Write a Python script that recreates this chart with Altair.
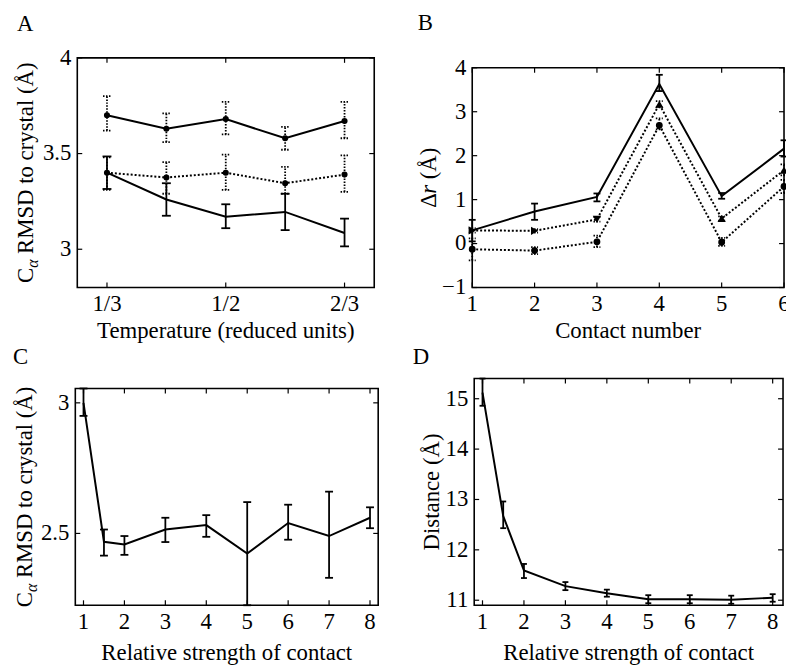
import altair as alt
import pandas as pd

FONT = "Liberation Serif"
FS = 23

# ---------------- data ----------------
# Panel A
A_TEMP = [1 / 3, 5 / 12, 1 / 2, 7 / 12, 2 / 3]
A_UPPER = [3.70, 3.63, 3.68, 3.58, 3.67]
A_UPPER_LO = [3.62, 3.56, 3.60, 3.52, 3.58]
A_UPPER_HI = [3.80, 3.71, 3.77, 3.64, 3.77]
A_MID = [3.40, 3.375, 3.40, 3.345, 3.39]
A_MID_LO = [3.31, 3.29, 3.31, 3.29, 3.30]
A_MID_HI = [3.48, 3.455, 3.495, 3.43, 3.49]
A_LOW = [3.40, 3.26, 3.17, 3.195, 3.085]
A_LOW_LO = [3.315, 3.175, 3.11, 3.10, 3.015]
A_LOW_HI = [3.485, 3.345, 3.235, 3.29, 3.16]
A_XTICKS = [1 / 3, 1 / 2, 2 / 3]
A_XTICK_LABELS = ["1/3", "1/2", "2/3"]
A_YTICKS = [3, 3.5, 4]
A_YTICK_LABELS = ["3", "3.5", "4"]

# Panel B
B_CONTACT = [1, 2, 3, 4, 5, 6]
B_SOLID = [0.30, 0.73, 1.06, 3.63, 1.08, 2.16]
B_SOLID_LO = [0.05, 0.54, 0.96, 3.47, 1.02, 1.98]
B_SOLID_HI = [0.54, 0.91, 1.14, 3.84, 1.15, 2.35]
B_TRI = [0.30, 0.29, 0.55, 3.17, 0.57, 1.67]
B_TRI_LO = [0.25, 0.25, 0.50, 3.10, 0.52, 1.55]
B_TRI_HI = [0.35, 0.33, 0.60, 3.24, 0.62, 1.80]
B_CIRC = [-0.13, -0.16, 0.04, 2.69, 0.03, 1.30]
B_CIRC_LO = [-0.38, -0.24, -0.08, 2.60, -0.05, 1.15]
B_CIRC_HI = [0.12, -0.08, 0.18, 2.85, 0.13, 1.45]
B_XTICK_LABELS = ["1", "2", "3", "4", "5", "6"]
B_YTICKS = [-1, 0, 1, 2, 3, 4]
B_YTICK_LABELS = ["\u22121", "0", "1", "2", "3", "4"]

# Panels C and D
STRENGTH = [1, 1.5, 2, 3, 4, 5, 6, 7, 8]
C_RMSD = [3.00, 2.468, 2.458, 2.515, 2.532, 2.423, 2.54, 2.49, 2.56]
C_LO = [2.95, 2.415, 2.418, 2.467, 2.487, 2.20, 2.476, 2.33, 2.52]
C_HI = [3.07, 2.515, 2.49, 2.56, 2.57, 2.62, 2.61, 2.66, 2.60]
C_YTICKS = [2.5, 3]
C_YTICK_LABELS = ["2.5", "3"]
D_DIST = [15.12, 12.67, 11.59, 11.28, 11.14, 11.02, 11.02, 11.01, 11.05]
D_LO = [14.86, 12.43, 11.44, 11.20, 11.07, 10.94, 10.94, 10.93, 10.97]
D_HI = [15.45, 12.96, 11.72, 11.36, 11.21, 11.10, 11.10, 11.09, 11.12]
D_YTICKS = [11, 12, 13, 14, 15]
D_YTICK_LABELS = ["11", "12", "13", "14", "15"]
CD_XTICKS = [1, 2, 3, 4, 5, 6, 7, 8]
CD_XTICK_LABELS = ["1", "2", "3", "4", "5", "6", "7", "8"]

# ---------------- layout / styles ----------------
W, H = 786, 660
GEO = {
    "A": dict(left=70, right=370, top=47, bottom=279, xdom=[7 / 24, 17 / 24], ydom=[2.8, 4.0]),
    "B": dict(left=469, right=784, top=57, bottom=279, xdom=[1, 6], ydom=[-1, 4]),
    "C": dict(left=68, right=374, top=381, bottom=600, xdom=[0.8, 8.2], ydom=[2.225, 3.055]),
    "D": dict(left=471, right=783, top=371, bottom=600, xdom=[0.8, 8.25], ydom=[10.9, 15.4]),
}
B_TRI_SHAPE = {1: "triangle-right", 2: "triangle-right", 3: "triangle-down",
               4: "triangle-up", 5: "triangle-up", 6: "triangle-up"}
TICK = 5
DOT = [2, 2]
ERRDOT = [1.5, 1.5]

ROMAN = {' ': 0.25, '(': 0.333, ')': 0.333, 'Å': 0.722, 'C': 0.667, 'D': 0.722,
         'M': 0.889, 'R': 0.667, 'S': 0.556, 'a': 0.444, 'c': 0.444, 'e': 0.444,
         'i': 0.278, 'l': 0.278, 'n': 0.5, 'o': 0.5, 'r': 0.333, 's': 0.389,
         't': 0.278, 'y': 0.5, 'Δ': 0.612}
ITALIC = {'α': 0.52, 'r': 0.389}


def text_width(s, size, italic=False):
    w = 0
    for ch in s:
        if italic and ch in ITALIC:
            w += ITALIC[ch]
        else:
            w += ROMAN.get(ch, 0.5)
    return w * size


def text_layer(txt, x, y, size=FS, angle=0, italic=False, align="left"):
    kw = dict(align=align, baseline="alphabetic", font=FONT, fontSize=size, color="black")
    if angle:
        kw["angle"] = angle
    if italic:
        kw["fontStyle"] = "italic"
    return alt.Chart(pd.DataFrame({"t": [txt]})).mark_text(**kw).encode(
        x=alt.value(x), y=alt.value(y), text="t:N")


def ytitle_layers(parts, base_x, center_y):
    # parts: (text, size, italic, baseline shift, gap after)
    total = sum(text_width(t, s, it) + g for t, s, it, sh, g in parts)
    y = center_y + total / 2
    out = []
    for t, s, it, sh, g in parts:
        out.append(text_layer(t, base_x + sh, y, size=s, angle=270, italic=it))
        y -= text_width(t, s, it) + g
    return out


def panel(key, xticks, xlabels, yticks, ylabels, series, xtitle, xtitle_dy,
          ytitle_parts, ytitle_x, letter, letter_xy):
    g = GEO[key]
    xs = alt.Scale(domain=g["xdom"], range=[g["left"], g["right"]], nice=False, zero=False)
    ys = alt.Scale(domain=g["ydom"], range=[g["bottom"], g["top"]], nice=False, zero=False, clamp=True)

    def XF(f):
        return alt.X(f, scale=xs, axis=None)

    def YF(f):
        return alt.Y(f, scale=ys, axis=None)

    layers = []
    # frame
    frame = pd.DataFrame({"x0": [g["xdom"][0]], "x1": [g["xdom"][1]],
                          "y0": [g["ydom"][0]], "y1": [g["ydom"][1]]})
    layers.append(alt.Chart(frame).mark_rect(filled=False, stroke="black", strokeWidth=1.6).encode(
        x=XF("x0:Q"), x2="x1:Q", y=YF("y0:Q"), y2="y1:Q"))
    # inward ticks on all four sides
    xt = pd.DataFrame({"t": xticks, "lab": xlabels})
    yt = pd.DataFrame({"t": yticks, "lab": ylabels})
    rk = dict(color="black", strokeWidth=1.2)
    layers += [
        alt.Chart(xt).mark_rule(**rk).encode(x=XF("t:Q"), y=alt.value(g["bottom"]), y2=alt.value(g["bottom"] - TICK)),
        alt.Chart(xt).mark_rule(**rk).encode(x=XF("t:Q"), y=alt.value(g["top"]), y2=alt.value(g["top"] + TICK)),
        alt.Chart(yt).mark_rule(**rk).encode(y=YF("t:Q"), x=alt.value(g["left"]), x2=alt.value(g["left"] + TICK)),
        alt.Chart(yt).mark_rule(**rk).encode(y=YF("t:Q"), x=alt.value(g["right"]), x2=alt.value(g["right"] - TICK)),
    ]
    # tick labels
    layers.append(alt.Chart(xt).mark_text(font=FONT, fontSize=FS, color="black", align="center",
                                          baseline="alphabetic").encode(
        x=XF("t:Q"), y=alt.value(g["bottom"] + 24), text="lab:N"))
    layers.append(alt.Chart(yt).mark_text(font=FONT, fontSize=FS, color="black", align="right",
                                          baseline="middle").encode(
        y=YF("t:Q"), x=alt.value(g["left"] - 6), text="lab:N"))
    # series
    for s in series:
        df = pd.DataFrame({"x": s["x"], "y": s["y"], "lo": s["lo"], "hi": s["hi"]})
        if s.get("shapes"):
            df["shape"] = [s["shapes"][v] for v in s["x"]]
        cap = s.get("cap", 8)
        ekw = dict(color="black", strokeWidth=1.8)
        if s.get("err_dash"):
            ekw["strokeDash"] = s["err_dash"]
        layers.append(alt.Chart(df).mark_rule(**ekw).encode(x=XF("x:Q"), y=YF("lo:Q"), y2="hi:Q"))
        for f in ["lo", "hi"]:
            layers.append(alt.Chart(df).mark_rule(xOffset=-cap / 2, x2Offset=cap / 2, **ekw).encode(
                x=XF("x:Q"), x2="x:Q", y=YF(f + ":Q")))
        lkw = dict(color="black", strokeWidth=2)
        if s.get("line_dash"):
            lkw["strokeDash"] = s["line_dash"]
        layers.append(alt.Chart(df).mark_line(**lkw).encode(x=XF("x:Q"), y=YF("y:Q")))
        if s.get("shapes"):
            layers.append(alt.Chart(df).mark_point(filled=True, color="black", opacity=1,
                                                   size=s.get("msize", 30)).encode(
                x=XF("x:Q"), y=YF("y:Q"), shape=alt.Shape("shape:N", scale=None)))
        elif s.get("shape"):
            layers.append(alt.Chart(df).mark_point(filled=True, color="black", opacity=1,
                                                   size=s.get("msize", 30), shape=s["shape"]).encode(
                x=XF("x:Q"), y=YF("y:Q")))
    # titles
    layers.append(text_layer(xtitle, (g["left"] + g["right"]) / 2, g["bottom"] + xtitle_dy, align="center"))
    layers += ytitle_layers(ytitle_parts, ytitle_x, (g["top"] + g["bottom"]) / 2)
    layers.append(text_layer(letter, letter_xy[0], letter_xy[1]))
    return layers


RMSD_TITLE = [("C", FS, False, 0, 0), ("α", 16, True, 5, 0.25 * FS),
              ("RMSD to crystal (Å)", FS, False, 0, 0)]

layers = []
layers += panel("A", A_XTICKS, A_XTICK_LABELS, A_YTICKS, A_YTICK_LABELS,
                [dict(x=A_TEMP, y=A_UPPER, lo=A_UPPER_LO, hi=A_UPPER_HI, err_dash=ERRDOT, shape="circle", msize=38, cap=8),
                 dict(x=A_TEMP, y=A_MID, lo=A_MID_LO, hi=A_MID_HI, line_dash=DOT, err_dash=ERRDOT, shape="circle", msize=38, cap=8),
                 dict(x=A_TEMP, y=A_LOW, lo=A_LOW_LO, hi=A_LOW_HI, cap=9)],
                "Temperature (reduced units)", 51, RMSD_TITLE, 25, "A", (9, 19.5))
layers += panel("B", B_CONTACT, B_XTICK_LABELS, B_YTICKS, B_YTICK_LABELS,
                [dict(x=B_CONTACT, y=B_CIRC, lo=B_CIRC_LO, hi=B_CIRC_HI, line_dash=DOT, err_dash=ERRDOT, shape="circle", msize=48, cap=7),
                 dict(x=B_CONTACT, y=B_TRI, lo=B_TRI_LO, hi=B_TRI_HI, line_dash=DOT, err_dash=ERRDOT, shapes=B_TRI_SHAPE, msize=70, cap=7),
                 dict(x=B_CONTACT, y=B_SOLID, lo=B_SOLID_LO, hi=B_SOLID_HI, cap=7)],
                "Contact number", 51,
                [("Δ", FS, False, 0, 0), ("r", FS, True, 0, 0.25 * FS), ("(Å)", FS, False, 0, 0)],
                432, "B", (414, 19))
layers += panel("C", CD_XTICKS, CD_XTICK_LABELS, C_YTICKS, C_YTICK_LABELS,
                [dict(x=STRENGTH, y=C_RMSD, lo=C_LO, hi=C_HI, cap=8)],
                "Relative strength of contact", 55, RMSD_TITLE, 24, "C", (5, 356))
layers += panel("D", CD_XTICKS, CD_XTICK_LABELS, D_YTICKS, D_YTICK_LABELS,
                [dict(x=STRENGTH, y=D_DIST, lo=D_LO, hi=D_HI, cap=6)],
                "Relative strength of contact", 55, [("Distance (Å)", FS, False, 0, 0)], 435,
                "D", (409, 356))

chart = alt.layer(*layers).resolve_scale(x="independent", y="independent").properties(
    width=W, height=H, padding=0, autosize=alt.AutoSizeParams(type="none")
).configure_view(stroke=None)

chart.save("out.html", embed_options={"renderer": "svg", "actions": False})
